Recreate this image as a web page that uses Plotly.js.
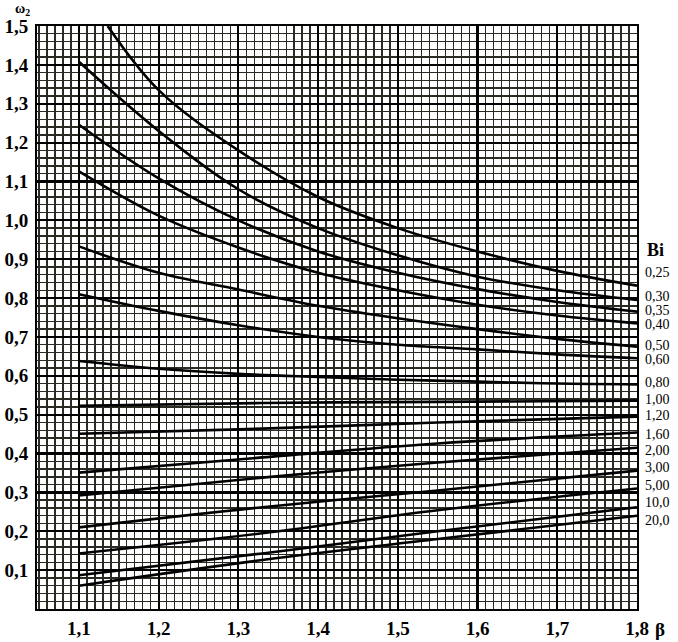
<!DOCTYPE html>
<html>
<head>
<meta charset="utf-8">
<script src="https://cdn.plot.ly/plotly-3.0.1.min.js"></script>
<style>html,body{margin:0;padding:0;background:#fff;}#chart{width:678px;height:642px;}</style>
</head>
<body>
<div id="chart"></div>
<script>
// Bi values (curve labels)
const biLabels = ["0,25","0,30","0,35","0,40","0,50","0,60","0,80","1,00","1,20","1,60","2,00","3,00","5,00","10,0","20,0"];

// beta readings
const betaTop   = [1.136, 1.2, 1.3, 1.4, 1.5, 1.6, 1.7, 1.8];
const betaFull  = [1.1, 1.2, 1.3, 1.4, 1.5, 1.6, 1.7, 1.8];
const betaRead  = [1.1, 1.33, 1.55, 1.8];

// omega_2 readings per Bi
const omega_025 = [1.5, 1.335, 1.18, 1.06, 0.98, 0.92, 0.87, 0.832];
const omega_030 = [1.408, 1.23, 1.08, 0.98, 0.91, 0.855, 0.82, 0.795];
const omega_035 = [1.246, 1.108, 1.0, 0.92, 0.865, 0.823, 0.79, 0.765];
const omega_040 = [1.126, 1.012, 0.93, 0.865, 0.82, 0.783, 0.755, 0.735];
const omega_050 = [0.933, 0.865, 0.822, 0.78, 0.748, 0.72, 0.695, 0.675];
const omega_060 = [0.81, 0.767, 0.73, 0.7, 0.68, 0.668, 0.655, 0.645];
const omega_080 = [0.638, 0.618, 0.605, 0.597, 0.59, 0.585, 0.58, 0.578];
const omega_100 = [0.523, 0.53, 0.533, 0.536];
const omega_120 = [0.451, 0.464, 0.48, 0.495];
const omega_160 = [0.351, 0.39, 0.426, 0.454];
const omega_200 = [0.292, 0.338, 0.377, 0.415];
const omega_300 = [0.21, 0.262, 0.305, 0.356];
const omega_500 = [0.143, 0.195, 0.254, 0.31];
const omega_1000 = [0.087, 0.143, 0.2, 0.262];
const omega_2000 = [0.06, 0.126, 0.18, 0.24];

// tick labels
const xTickVals = [1.1, 1.2, 1.3, 1.4, 1.5, 1.6, 1.7, 1.8];
const xTickText = ["1,1","1,2","1,3","1,4","1,5","1,6","1,7","1,8"];
const yTickVals = [0.1,0.2,0.3,0.4,0.5,0.6,0.7,0.8,0.9,1.0,1.1,1.2,1.3,1.4,1.5];
const yTickText = ["0,1","0,2","0,3","0,4","0,5","0,6","0,7","0,8","0,9","1,0","1,1","1,2","1,3","1,4","1,5"];

const series = [
  [betaTop, omega_025], [betaFull, omega_030], [betaFull, omega_035], [betaFull, omega_040],
  [betaFull, omega_050], [betaFull, omega_060], [betaFull, omega_080],
  [betaRead, omega_100], [betaRead, omega_120], [betaRead, omega_160], [betaRead, omega_200],
  [betaRead, omega_300], [betaRead, omega_500], [betaRead, omega_1000], [betaRead, omega_2000]
];

const traces = series.map((s, i) => ({
  x: s[0], y: s[1], type: 'scatter', mode: 'lines', name: 'Bi ' + biLabels[i],
  line: {color: '#000', width: 2.6, shape: 'spline', smoothing: 1.0},
  showlegend: false, hoverinfo: 'skip'
}));

// label vertical placement (layout positions in omega units)
const labelPos = [0.867, 0.803, 0.767, 0.731, 0.677, 0.641, 0.584, 0.538, 0.497, 0.448, 0.407, 0.363, 0.319, 0.273, 0.229];

const serif = "Liberation Serif, Times New Roman, serif";
const annotations = biLabels.map((t, i) => ({
  xref: 'paper', yref: 'y', x: 1, y: labelPos[i], xanchor: 'left', yanchor: 'middle',
  xshift: 6, text: t, showarrow: false,
  font: {family: serif, size: 14, color: '#000'}
}));
annotations.push({xref: 'paper', yref: 'y', x: 1, y: 0.924, xanchor: 'left', yanchor: 'middle',
  xshift: 8, text: 'Bi', showarrow: false, font: {family: serif, size: 18, color: '#000', weight: 'bold'}});
annotations.push({xref: 'paper', yref: 'paper', x: 0, y: 1, xanchor: 'center', yanchor: 'top',
  xshift: -15, yshift: 27, text: 'ω<sub>2</sub>', showarrow: false, font: {family: serif, size: 14, color: '#000', weight: 'bold'}});
annotations.push({xref: 'paper', yref: 'paper', x: 1, y: 0, xanchor: 'left', yanchor: 'top',
  xshift: 16, yshift: -8, text: 'β', showarrow: false, font: {family: serif, size: 19, color: '#000', weight: 'bold'}});

const layout = {
  width: 678, height: 642,
  margin: {l: 37, r: 41, t: 26, b: 33, pad: 0},
  paper_bgcolor: '#fff', plot_bgcolor: '#fff',
  separators: ',.',
  showlegend: false,
  xaxis: {
    range: [1.0474, 1.8], tickvals: xTickVals, ticktext: xTickText,
    showgrid: true, gridcolor: '#000', gridwidth: 2.2,
    minor: {dtick: 0.01, tick0: 1.0, showgrid: true, gridcolor: '#2a2a22', gridwidth: 1.4, ticks: ''},
    ticks: '', zeroline: false, showline: true, linecolor: '#000', linewidth: 2, mirror: true,
    tickfont: {family: serif, size: 19, color: '#000', weight: 'bold'}, ticklabelstandoff: 1
  },
  yaxis: {
    range: [0, 1.5], tickvals: yTickVals, ticktext: yTickText,
    showgrid: true, gridcolor: '#000', gridwidth: 2.2,
    minor: {dtick: 0.02, tick0: 0, showgrid: true, gridcolor: '#2a2a22', gridwidth: 1.4, ticks: ''},
    ticks: '', zeroline: false, showline: true, linecolor: '#000', linewidth: 2, mirror: true,
    tickfont: {family: serif, size: 19, color: '#000', weight: 'bold'}, ticklabelstandoff: 3
  },
  annotations: annotations
};

Plotly.newPlot('chart', traces, layout, {displayModeBar: false, staticPlot: true});
</script>
</body>
</html>
